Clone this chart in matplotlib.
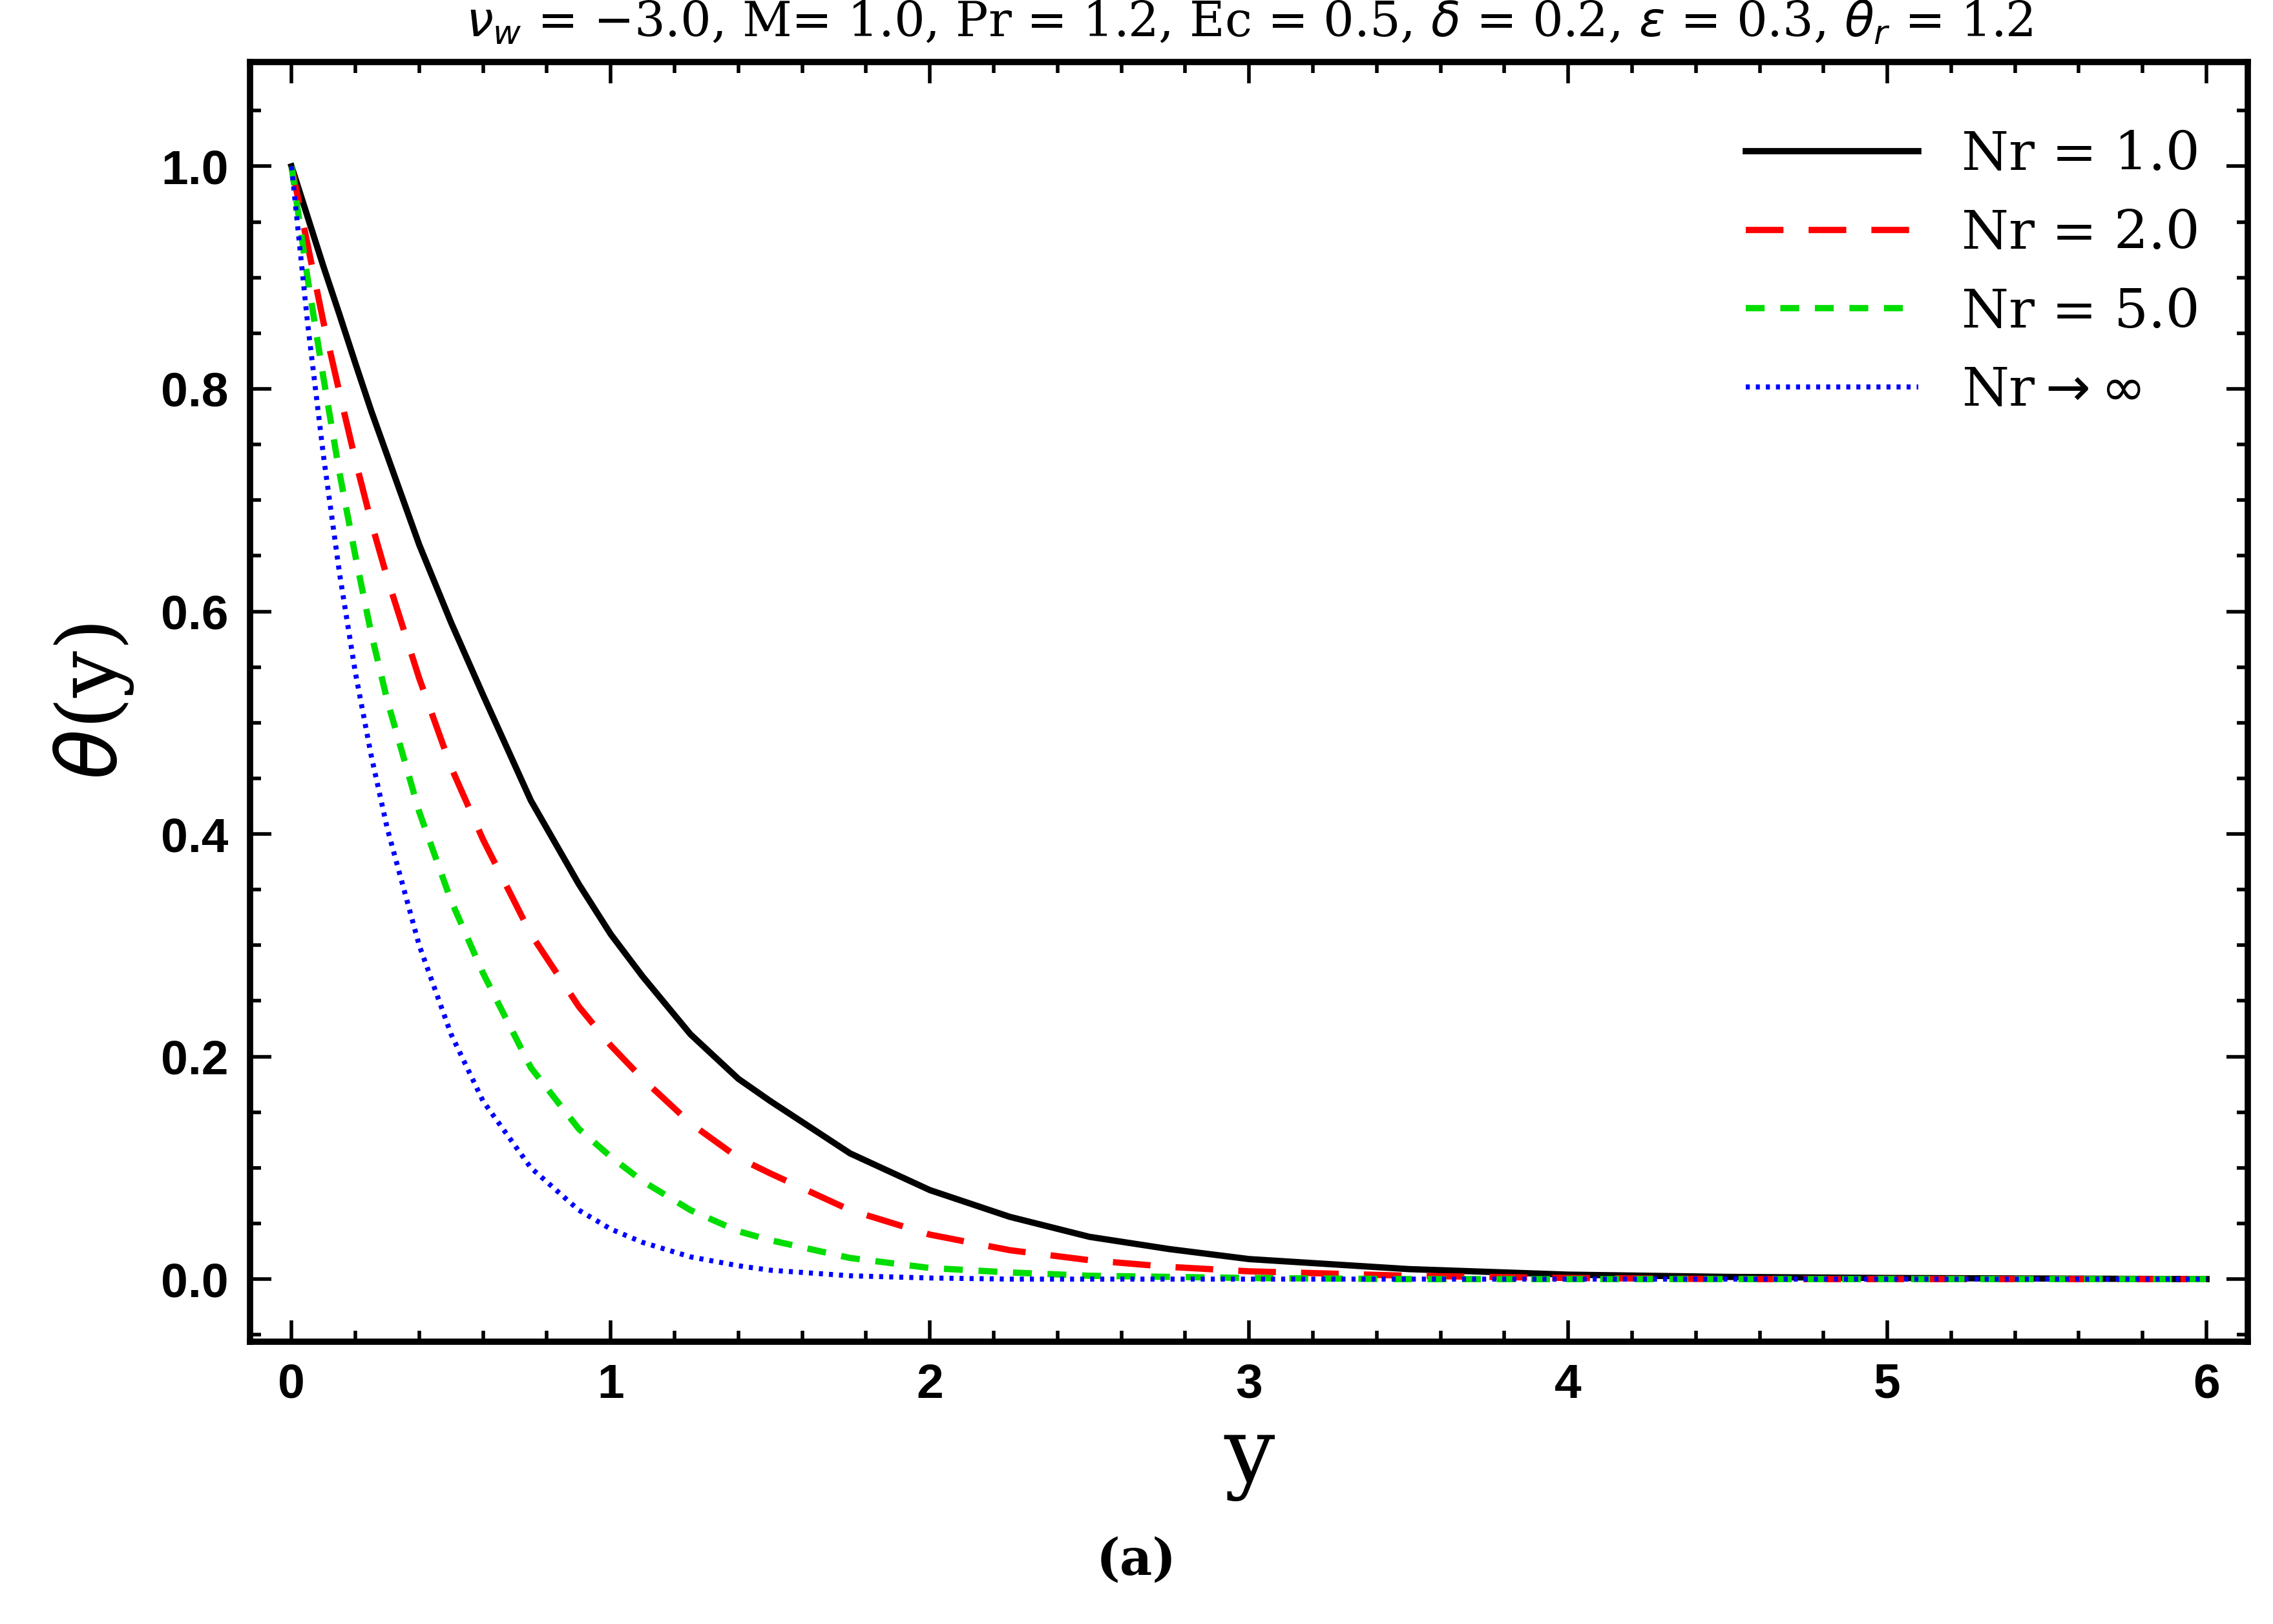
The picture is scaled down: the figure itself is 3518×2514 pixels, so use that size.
import numpy as np
import matplotlib.pyplot as plt
from matplotlib.ticker import MultipleLocator

# values
yPts = [0, 0.05, 0.1, 0.15, 0.2, 0.25, 0.3, 0.4, 0.5, 0.6, 0.75, 0.9, 1.0, 1.1, 1.25, 1.4, 1.5, 1.75,
        2.0, 2.25, 2.5, 2.75, 3.0, 3.5, 4.0, 4.5, 5.0, 6.0]
thetaNr1 = [1.0, 0.955, 0.91, 0.867, 0.823, 0.78, 0.74, 0.66, 0.59, 0.525, 0.43, 0.355, 0.31, 0.272,
            0.22, 0.18, 0.16, 0.113, 0.08, 0.056, 0.038, 0.027, 0.018, 0.009, 0.004, 0.002, 0.001, 0.0]
thetaNr2 = [1.0, 0.93, 0.86, 0.797, 0.736, 0.68, 0.63, 0.54, 0.46, 0.395, 0.31, 0.245, 0.21, 0.18,
            0.14, 0.109, 0.095, 0.062, 0.04, 0.026, 0.017, 0.011, 0.007, 0.003, 0.001, 0.0, 0.0, 0.0]
thetaNr5 = [1.0, 0.9, 0.81, 0.725, 0.65, 0.58, 0.52, 0.42, 0.34, 0.275, 0.19, 0.135, 0.11, 0.088,
            0.062, 0.043, 0.035, 0.019, 0.01, 0.006, 0.003, 0.002, 0.001, 0.0, 0.0, 0.0, 0.0, 0.0]
thetaInf = [1.0, 0.86, 0.74, 0.635, 0.545, 0.47, 0.405, 0.30, 0.22, 0.16, 0.10, 0.062, 0.045, 0.033,
            0.02, 0.012, 0.008, 0.003, 0.001, 0.0, 0.0, 0.0, 0.0, 0.0, 0.0, 0.0, 0.0, 0.0]
labels = ["Nr = 1.0", "Nr = 2.0", "Nr = 5.0", r"Nr$\rightarrow\infty$"]
xTicks = [0, 1, 2, 3, 4, 5, 6]
yTicks = [0.0, 0.2, 0.4, 0.6, 0.8, 1.0]

fig = plt.figure(figsize=(17.59, 12.57), dpi=200)
ax = fig.add_axes([0.110, 0.174, 0.879, 0.788])

ax.plot(yPts, thetaNr1, color="black", lw=3.5, label=labels[0])
ax.plot(yPts, thetaNr2, color="red", lw=3.5, dashes=(6, 4), label=labels[1])
ax.plot(yPts, thetaNr5, color="#00dd00", lw=3.5, dashes=(3, 2.5), label=labels[2])
ax.plot(yPts, thetaInf, color="blue", lw=2.8, dashes=(0.8, 1.2), label=labels[3])

ax.set_xlim(-0.13, 6.13)
ax.set_ylim(-0.056, 1.094)
ax.set_xticks(xTicks)
ax.set_xticklabels([str(v) for v in xTicks])
ax.set_yticks(yTicks)
ax.set_yticklabels(["%.1f" % v for v in yTicks])
ax.xaxis.set_minor_locator(MultipleLocator(0.2))
ax.yaxis.set_minor_locator(MultipleLocator(0.05))
ax.tick_params(which="both", direction="in", top=True, right=True, width=2)
ax.tick_params(which="major", length=12, pad=12)
ax.tick_params(which="minor", length=6)
for s in ax.spines.values():
    s.set_linewidth(3.5)
for t in ax.get_xticklabels() + ax.get_yticklabels():
    t.set_fontfamily("Liberation Sans")
    t.set_fontweight("bold")
    t.set_fontsize(27)

ax.set_xlabel("y", fontfamily="DejaVu Serif", fontsize=50, labelpad=4)
ax.set_ylabel(r"$\theta$(y)", fontfamily="DejaVu Serif", fontsize=46, labelpad=14)
ax.set_title(r"$\nu_w$ = $-$3.0, M= 1.0, Pr = 1.2, Ec = 0.5, $\delta$ = 0.2, $\epsilon$ = 0.3, $\theta_r$ = 1.2",
             fontfamily="DejaVu Serif", fontsize=27, pad=14)

ax.legend(loc="upper right", frameon=False, handlelength=3.2,
          prop={"family": "DejaVu Serif", "size": 30}, labelspacing=0.5,
          bbox_to_anchor=(1.0, 0.985))

fig.text(0.5, 0.03, "(a)", ha="center", fontfamily="DejaVu Serif", fontsize=28, fontweight="bold")
fig.savefig("out.png", dpi=200)
